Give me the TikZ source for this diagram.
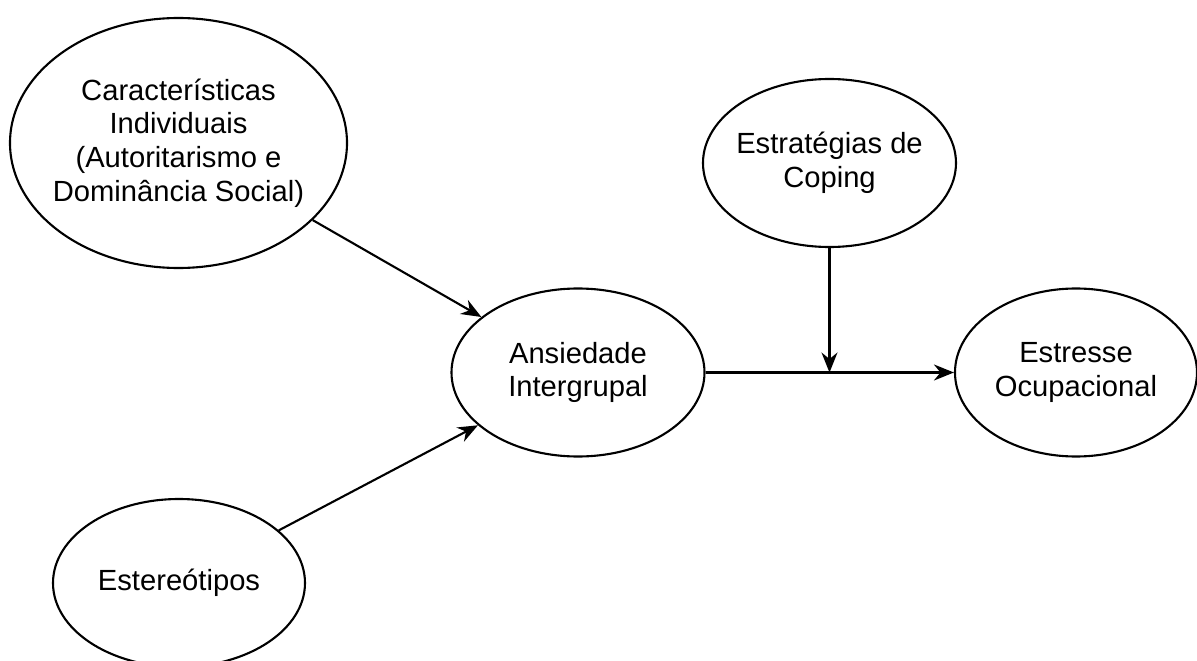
\documentclass[tikz,border=0pt]{standalone}
\usepackage{fontspec}
\setmainfont{Liberation Sans}
\usetikzlibrary{shapes.geometric,arrows.meta}
\begin{document}
\begin{tikzpicture}[
        construct/.style={ellipse, draw, line width=0.6pt, inner sep=0pt, align=center, minimum width=2.52cm, minimum height=1.68cm, font=\fontsize{8.3}{9.55}\selectfont},
        arrow/.style={draw, line width=0.6pt, -{Stealth[length=0.2cm, width=0.16cm]}}
    ]
    \useasboundingbox (0,0) rectangle (11.97,-6.61);
    % Nodes
    \node[construct, minimum width=3.37cm, minimum height=2.5cm, inner xsep=-2mm] (indiv) at (1.785,-1.43) {Características\\Individuais\\(Autoritarismo e\\Dominância Social)};
    \node[construct] (stereo) at (1.79,-5.83) {Estereótipos};
    \node[construct, minimum width=2.53cm] (anxiety) at (5.78,-3.725) {Ansiedade\\Intergrupal};
    \node[construct, minimum width=2.53cm, inner xsep=-1.5mm] (coping) at (8.295,-1.63) {Estratégias de\\Coping};
    \node[construct, minimum width=2.42cm] (stress) at (10.76,-3.725) {Estresse\\Ocupacional};
    \coordinate (moderation) at (coping |- anxiety);
    
    % Arrows connecting nodes
    \draw[arrow] (indiv) -- (anxiety);
    \draw[arrow] (stereo) -- (anxiety);
    \draw[arrow] (anxiety) -- (stress);
    \draw[arrow] (coping) -- (moderation);
    
    \end{tikzpicture}
\end{document}
